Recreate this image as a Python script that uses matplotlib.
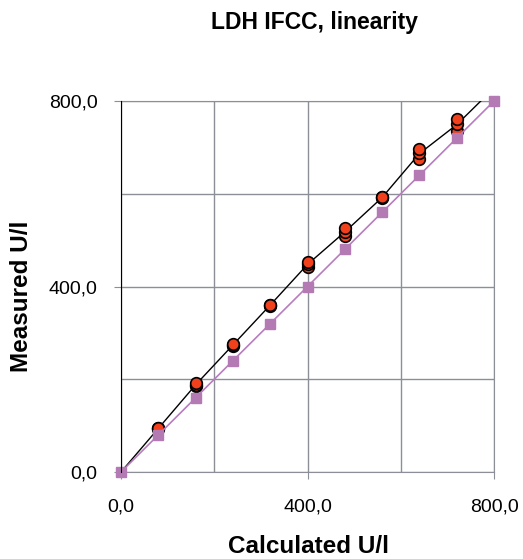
import matplotlib.pyplot as plt

plt.rcParams['font.family'] = ['Liberation Sans', 'DejaVu Sans']

# concentrations (calculated) and replicate measurements
calculated = [0, 80, 160, 240, 320, 400, 480, 560, 640, 720, 800]
measured = [
    [0, 0, 0],
    [93, 94, 95],
    [185, 188, 191],
    [271, 274, 277],
    [359, 360, 361],
    [442, 448, 453],
    [509, 518, 526],
    [590, 592, 594],
    [676, 687, 697],
    [735, 751, 761],
    [820, 828, 836],
]
mean_measured = [sum(r) / len(r) for r in measured]
ideal = calculated

fig = plt.figure(figsize=(5.23, 5.59), dpi=100)
ax = fig.add_axes([0.2314, 0.1556, 0.7132, 0.6637])

ax.plot(calculated, mean_measured, color='black', lw=1.0, zorder=3)
for x, reps in zip(calculated[1:], measured[1:]):
    ax.scatter([x] * len(reps), reps, s=70, color='#f0401c', edgecolor='black',
               linewidth=1.2, zorder=4)
ax.plot(calculated, ideal, color='#b87cc0', lw=1.2, marker='s', ms=7.5,
        mfc='#b47ab4', mec='#b47ab4', zorder=5, clip_on=False)

ax.set_xlim(0, 800)
ax.set_ylim(0, 800)
ax.set_xticks([0, 400, 800])
ax.set_yticks([0, 400, 800])
ax.set_xticklabels(['0,0', '400,0', '800,0'])
ax.set_yticklabels(['0,0', '400,0', '800,0'])
ax.set_xticks([200, 600], minor=True)
ax.set_yticks([200, 600], minor=True)
ax.grid(True, which='both', color='#8c9096', lw=1.0)
ax.set_axisbelow(True)
ax.tick_params(axis='x', which='major', direction='out', length=5,
               color='#8c9096', labelsize=14, pad=14)
ax.tick_params(axis='y', which='major', direction='out', length=5,
               color='#8c9096', labelsize=14, pad=12)
ax.tick_params(axis='both', which='minor', length=0)

for s in ['top', 'right', 'bottom']:
    ax.spines[s].set_color('#8c9096')
ax.spines['left'].set_color('black')
ax.spines['left'].set_zorder(6)

fig.text(0.602, 0.96, 'LDH IFCC, linearity', ha='center', va='center',
         fontsize=16.5, fontweight='bold')
fig.text(0.589, 0.022, 'Calculated U/l', ha='center', va='center',
         fontsize=17.5, fontweight='bold')
fig.text(0.042, 0.47, 'Measured U/l', ha='center', va='center',
         fontsize=17.5, fontweight='bold', rotation=90)

fig.savefig('out.png', dpi=100)
